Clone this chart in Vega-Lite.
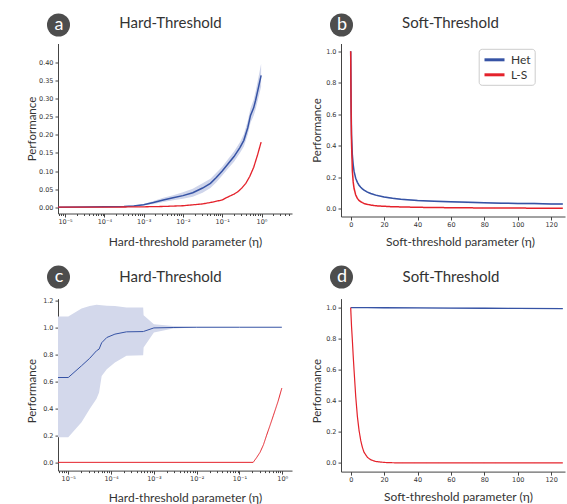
{
  "$schema": "https://vega.github.io/schema/vega-lite/v6.json",
  "background": "white",
  "padding": {"left": 26, "top": 12.5, "right": 0, "bottom": 0},
  "config": {
    "view": {"stroke": null},
    "axis": {"labelFont": "DejaVu Sans", "labelFontSize": 6.5, "labelColor": "#333", "tickColor": "#444", "domainColor": "#444", "titleFont": "Lato", "titleFontWeight": "normal", "titleColor": "#333", "grid": false}
  },
  "columns": 2,
  "align": "each",
  "spacing": {"row": 17.1, "column": 19},
  "resolve": {"scale": {"color": "independent", "strokeDash": "independent"}, "legend": {"color": "independent", "strokeDash": "independent"}},
  "datasets": {
    "a": [
      {"x": 6.607e-6, "s": "Het", "v": 0, "lo": 0, "hi": 0.0005},
      {"x": 3.162e-5, "s": "Het", "v": 0.0005, "lo": 0, "hi": 0.0012},
      {"x": 1e-4, "s": "Het", "v": 0.001, "lo": 0, "hi": 0.002},
      {"x": 3.162e-4, "s": "Het", "v": 0.002, "lo": 0.0008, "hi": 0.0032},
      {"x": 5.623e-4, "s": "Het", "v": 0.0035, "lo": 0.002, "hi": 0.005},
      {"x": 0.001, "s": "Het", "v": 0.007, "lo": 0.005, "hi": 0.009},
      {"x": 0.001778, "s": "Het", "v": 0.013, "lo": 0.009, "hi": 0.017},
      {"x": 0.003162, "s": "Het", "v": 0.02, "lo": 0.014, "hi": 0.026},
      {"x": 0.005623, "s": "Het", "v": 0.026, "lo": 0.019, "hi": 0.033},
      {"x": 0.01, "s": "Het", "v": 0.032, "lo": 0.023, "hi": 0.041},
      {"x": 0.01778, "s": "Het", "v": 0.04, "lo": 0.029, "hi": 0.051},
      {"x": 0.03162, "s": "Het", "v": 0.053, "lo": 0.04, "hi": 0.066},
      {"x": 0.05012, "s": "Het", "v": 0.066, "lo": 0.053, "hi": 0.079},
      {"x": 0.07079, "s": "Het", "v": 0.082, "lo": 0.069, "hi": 0.095},
      {"x": 0.1, "s": "Het", "v": 0.1, "lo": 0.088, "hi": 0.112},
      {"x": 0.1413, "s": "Het", "v": 0.12, "lo": 0.107, "hi": 0.133},
      {"x": 0.1995, "s": "Het", "v": 0.14, "lo": 0.126, "hi": 0.154},
      {"x": 0.2818, "s": "Het", "v": 0.165, "lo": 0.15, "hi": 0.18},
      {"x": 0.3548, "s": "Het", "v": 0.185, "lo": 0.168, "hi": 0.202},
      {"x": 0.4467, "s": "Het", "v": 0.22, "lo": 0.201, "hi": 0.239},
      {"x": 0.5248, "s": "Het", "v": 0.254, "lo": 0.234, "hi": 0.274},
      {"x": 0.631, "s": "Het", "v": 0.275, "lo": 0.253, "hi": 0.297},
      {"x": 0.7079, "s": "Het", "v": 0.296, "lo": 0.271, "hi": 0.321},
      {"x": 0.8318, "s": "Het", "v": 0.33, "lo": 0.302, "hi": 0.358},
      {"x": 0.9772, "s": "Het", "v": 0.365, "lo": 0.333, "hi": 0.397},
      {"x": 6.607e-6, "s": "L-S", "v": 0},
      {"x": 1e-4, "s": "L-S", "v": 0},
      {"x": 0.001, "s": "L-S", "v": 0.001},
      {"x": 0.003162, "s": "L-S", "v": 0.002},
      {"x": 0.01, "s": "L-S", "v": 0.004},
      {"x": 0.03162, "s": "L-S", "v": 0.009},
      {"x": 0.05623, "s": "L-S", "v": 0.014},
      {"x": 0.1, "s": "L-S", "v": 0.02},
      {"x": 0.1318, "s": "L-S", "v": 0.027},
      {"x": 0.1995, "s": "L-S", "v": 0.036},
      {"x": 0.2512, "s": "L-S", "v": 0.043},
      {"x": 0.3162, "s": "L-S", "v": 0.053},
      {"x": 0.3981, "s": "L-S", "v": 0.066},
      {"x": 0.5012, "s": "L-S", "v": 0.085},
      {"x": 0.631, "s": "L-S", "v": 0.11},
      {"x": 0.7943, "s": "L-S", "v": 0.145},
      {"x": 0.9772, "s": "L-S", "v": 0.18}
    ],
    "b": [
      {"x": 0, "s": "Het", "v": 1.0, "lo": 1.0, "hi": 1.0},
      {"x": 0.25, "s": "Het", "v": 0.66, "lo": 0.655, "hi": 0.665},
      {"x": 0.5, "s": "Het", "v": 0.47, "lo": 0.465, "hi": 0.475},
      {"x": 1, "s": "Het", "v": 0.34, "lo": 0.335, "hi": 0.345},
      {"x": 1.5, "s": "Het", "v": 0.28, "lo": 0.275, "hi": 0.285},
      {"x": 2, "s": "Het", "v": 0.238, "lo": 0.233, "hi": 0.243},
      {"x": 3, "s": "Het", "v": 0.193, "lo": 0.188, "hi": 0.198},
      {"x": 4, "s": "Het", "v": 0.167, "lo": 0.162, "hi": 0.172},
      {"x": 5, "s": "Het", "v": 0.149, "lo": 0.144, "hi": 0.154},
      {"x": 6, "s": "Het", "v": 0.136, "lo": 0.131, "hi": 0.141},
      {"x": 7, "s": "Het", "v": 0.126, "lo": 0.121, "hi": 0.131},
      {"x": 8, "s": "Het", "v": 0.118, "lo": 0.113, "hi": 0.123},
      {"x": 10, "s": "Het", "v": 0.105, "lo": 0.1, "hi": 0.11},
      {"x": 12, "s": "Het", "v": 0.096, "lo": 0.091, "hi": 0.101},
      {"x": 15, "s": "Het", "v": 0.086, "lo": 0.081, "hi": 0.091},
      {"x": 20, "s": "Het", "v": 0.074, "lo": 0.069, "hi": 0.079},
      {"x": 25, "s": "Het", "v": 0.066, "lo": 0.061, "hi": 0.071},
      {"x": 30, "s": "Het", "v": 0.06, "lo": 0.055, "hi": 0.065},
      {"x": 40, "s": "Het", "v": 0.052, "lo": 0.047, "hi": 0.057},
      {"x": 50, "s": "Het", "v": 0.047, "lo": 0.042, "hi": 0.052},
      {"x": 60, "s": "Het", "v": 0.043, "lo": 0.038, "hi": 0.048},
      {"x": 70, "s": "Het", "v": 0.04, "lo": 0.035, "hi": 0.045},
      {"x": 80, "s": "Het", "v": 0.037, "lo": 0.032, "hi": 0.042},
      {"x": 90, "s": "Het", "v": 0.035, "lo": 0.03, "hi": 0.04},
      {"x": 100, "s": "Het", "v": 0.033, "lo": 0.028, "hi": 0.038},
      {"x": 110, "s": "Het", "v": 0.032, "lo": 0.027, "hi": 0.037},
      {"x": 120, "s": "Het", "v": 0.03, "lo": 0.025, "hi": 0.035},
      {"x": 127, "s": "Het", "v": 0.029, "lo": 0.024, "hi": 0.034},
      {"x": 0, "s": "L-S", "v": 1.0},
      {"x": 0.25, "s": "L-S", "v": 0.62},
      {"x": 0.5, "s": "L-S", "v": 0.42},
      {"x": 1, "s": "L-S", "v": 0.24},
      {"x": 1.5, "s": "L-S", "v": 0.17},
      {"x": 2, "s": "L-S", "v": 0.13},
      {"x": 3, "s": "L-S", "v": 0.087},
      {"x": 4, "s": "L-S", "v": 0.065},
      {"x": 5, "s": "L-S", "v": 0.052},
      {"x": 6, "s": "L-S", "v": 0.044},
      {"x": 7, "s": "L-S", "v": 0.038},
      {"x": 8, "s": "L-S", "v": 0.033},
      {"x": 10, "s": "L-S", "v": 0.027},
      {"x": 12, "s": "L-S", "v": 0.023},
      {"x": 15, "s": "L-S", "v": 0.018},
      {"x": 20, "s": "L-S", "v": 0.015},
      {"x": 25, "s": "L-S", "v": 0.012},
      {"x": 30, "s": "L-S", "v": 0.011},
      {"x": 40, "s": "L-S", "v": 0.0085},
      {"x": 50, "s": "L-S", "v": 0.007},
      {"x": 60, "s": "L-S", "v": 0.006},
      {"x": 70, "s": "L-S", "v": 0.005},
      {"x": 80, "s": "L-S", "v": 0.0045},
      {"x": 90, "s": "L-S", "v": 0.004},
      {"x": 100, "s": "L-S", "v": 0.0035},
      {"x": 110, "s": "L-S", "v": 0.003},
      {"x": 120, "s": "L-S", "v": 0.0025},
      {"x": 127, "s": "L-S", "v": 0.002}
    ],
    "c": [
      {"x": 5.754e-6, "s": "Het", "v": 0.628, "lo": 0.185, "hi": 1.079},
      {"x": 1e-5, "s": "Het", "v": 0.628, "lo": 0.185, "hi": 1.079},
      {"x": 2.042e-5, "s": "Het", "v": 0.715, "lo": 0.296, "hi": 1.138},
      {"x": 3.162e-5, "s": "Het", "v": 0.77, "lo": 0.394, "hi": 1.158},
      {"x": 4.571e-5, "s": "Het", "v": 0.826, "lo": 0.47, "hi": 1.166},
      {"x": 5.248e-5, "s": "Het", "v": 0.838, "lo": 0.517, "hi": 1.165},
      {"x": 6.026e-5, "s": "Het", "v": 0.885, "lo": 0.64, "hi": 1.163},
      {"x": 7.943e-5, "s": "Het", "v": 0.924, "lo": 0.69, "hi": 1.16},
      {"x": 1.23e-4, "s": "Het", "v": 0.949, "lo": 0.739, "hi": 1.158},
      {"x": 2.291e-4, "s": "Het", "v": 0.966, "lo": 0.789, "hi": 1.146},
      {"x": 5.623e-4, "s": "Het", "v": 0.968, "lo": 0.793, "hi": 1.146},
      {"x": 5.754e-4, "s": "Het", "v": 0.969, "lo": 0.85, "hi": 1.089},
      {"x": 0.001, "s": "Het", "v": 0.995, "lo": 0.961, "hi": 1.023},
      {"x": 0.002818, "s": "Het", "v": 0.998, "lo": 0.99, "hi": 1.01},
      {"x": 0.01, "s": "Het", "v": 1.0, "lo": 0.999, "hi": 1.001},
      {"x": 0.1, "s": "Het", "v": 1.0, "lo": 1.0, "hi": 1.0},
      {"x": 0.9772, "s": "Het", "v": 1.0, "lo": 1.0, "hi": 1.0},
      {"x": 5.754e-6, "s": "L-S", "v": 0},
      {"x": 0.2089, "s": "L-S", "v": 0},
      {"x": 0.2512, "s": "L-S", "v": 0.035},
      {"x": 0.302, "s": "L-S", "v": 0.074},
      {"x": 0.3631, "s": "L-S", "v": 0.13},
      {"x": 0.4266, "s": "L-S", "v": 0.197},
      {"x": 0.5129, "s": "L-S", "v": 0.27},
      {"x": 0.6166, "s": "L-S", "v": 0.345},
      {"x": 0.7943, "s": "L-S", "v": 0.45},
      {"x": 0.9772, "s": "L-S", "v": 0.55}
    ],
    "d": [
      {"x": 0, "s": "Het", "v": 1.0, "lo": 0.997, "hi": 1.003},
      {"x": 10, "s": "Het", "v": 1.0, "lo": 0.997, "hi": 1.003},
      {"x": 20, "s": "Het", "v": 0.999, "lo": 0.996, "hi": 1.002},
      {"x": 40, "s": "Het", "v": 0.998, "lo": 0.995, "hi": 1.001},
      {"x": 60, "s": "Het", "v": 0.997, "lo": 0.994, "hi": 1.0},
      {"x": 80, "s": "Het", "v": 0.996, "lo": 0.993, "hi": 0.999},
      {"x": 100, "s": "Het", "v": 0.995, "lo": 0.992, "hi": 0.998},
      {"x": 127, "s": "Het", "v": 0.994, "lo": 0.991, "hi": 0.997},
      {"x": 0, "s": "L-S", "v": 1.0},
      {"x": 0.25, "s": "L-S", "v": 0.94},
      {"x": 0.5, "s": "L-S", "v": 0.88},
      {"x": 1, "s": "L-S", "v": 0.79},
      {"x": 1.5, "s": "L-S", "v": 0.69},
      {"x": 2, "s": "L-S", "v": 0.6},
      {"x": 3, "s": "L-S", "v": 0.43},
      {"x": 4, "s": "L-S", "v": 0.3},
      {"x": 5, "s": "L-S", "v": 0.21},
      {"x": 6, "s": "L-S", "v": 0.145},
      {"x": 7, "s": "L-S", "v": 0.1},
      {"x": 8, "s": "L-S", "v": 0.068},
      {"x": 10, "s": "L-S", "v": 0.036},
      {"x": 12, "s": "L-S", "v": 0.02},
      {"x": 15, "s": "L-S", "v": 0.009},
      {"x": 20, "s": "L-S", "v": 0.003},
      {"x": 25, "s": "L-S", "v": 0.001},
      {"x": 30, "s": "L-S", "v": 0},
      {"x": 60, "s": "L-S", "v": 0},
      {"x": 100, "s": "L-S", "v": 0},
      {"x": 127, "s": "L-S", "v": 0}
    ]
  },
  "concat": [
    {
      "width": 234, "height": 170,
      "data": {"name": "a"},
      "layer": [
        {
          "transform": [{"filter": "datum.s == 'Het'"}],
          "mark": {"type": "area", "color": "#cfd5eb", "opacity": 1},
          "encoding": {
            "x": {"field": "x", "type": "quantitative", "scale": {"type": "log", "domain": [6.607e-6, 5.97], "nice": false},
              "axis": {"orient": "top", "labels": false, "ticks": false, "domain": false, "title": "Hard-Threshold", "titleFontSize": 15, "titleX": 112, "titleY": -15.7, "titleBaseline": "alphabetic", "titleAlign": "center"}},
            "y": {"field": "lo", "type": "quantitative", "scale": {"domain": [-0.0175, 0.453], "nice": false, "zero": false},
              "axis": {"values": [0, 0.05, 0.1, 0.15, 0.2, 0.25, 0.3, 0.35, 0.4], "format": ".2f", "tickSize": 3, "labelPadding": 2, "title": "Performance", "titleFontSize": 11.5, "titleX": -22.3, "titleY": 85, "titleBaseline": "alphabetic", "titleAlign": "center"}},
            "y2": {"field": "hi"}
          }
        },
        {
          "transform": [{"filter": "datum.s == 'Het'"}],
          "mark": {"type": "line", "strokeWidth": 1.5},
          "encoding": {
            "x": {"field": "x", "type": "quantitative", "scale": {"type": "log", "domain": [6.607e-6, 5.97], "nice": false},
              "axis": {"orient": "bottom", "values": [0.000007, 0.000008, 0.000009, 0.00001, 0.00002, 0.00003, 0.00004, 0.00005, 0.00006, 0.00007, 0.00008, 0.00009, 0.0001, 0.0002, 0.0003, 0.0004, 0.0005, 0.0006, 0.0007, 0.0008, 0.0009, 0.001, 0.002, 0.003, 0.004, 0.005, 0.006, 0.007, 0.008, 0.009, 0.01, 0.02, 0.03, 0.04, 0.05, 0.06, 0.07, 0.08, 0.09, 0.1, 0.2, 0.3, 0.4, 0.5, 0.6, 0.7, 0.8, 0.9, 1, 2, 3, 4, 5],
                "labelExpr": "datum.value == 0.00001 ? '10⁻⁵' : datum.value == 0.0001 ? '10⁻⁴' : datum.value == 0.001 ? '10⁻³' : datum.value == 0.01 ? '10⁻²' : datum.value == 0.1 ? '10⁻¹' : datum.value == 1 ? '10⁰' : ''",
                "labelOverlap": false, "labelFlush": false, "labelPadding": 1.5, "labelBaseline": "top",
                "tickSize": {"condition": {"test": "indexof([0.00001, 0.0001, 0.001, 0.01, 0.1, 1], datum.value) >= 0", "value": 3.5}, "value": 2},
                "title": "Hard-threshold parameter (η)", "titleFontSize": 12, "titleX": 127, "titleY": 32, "titleBaseline": "alphabetic", "titleAlign": "center"}},
            "y": {"field": "v", "type": "quantitative", "scale": {"domain": [-0.0175, 0.453], "nice": false, "zero": false},
              "axis": {"values": [0, 0.05, 0.1, 0.15, 0.2, 0.25, 0.3, 0.35, 0.4], "format": ".2f", "tickSize": 3, "labelPadding": 2, "title": "Performance", "titleFontSize": 11.5, "titleX": -22.3, "titleY": 85, "titleBaseline": "alphabetic", "titleAlign": "center"}},
            "color": {"field": "s", "type": "nominal", "scale": {"domain": ["Het", "L-S"], "range": ["#3653a5", "#e4222b"]}, "legend": null}
          }
        },
        {
          "transform": [{"filter": "datum.s == 'L-S'"}],
          "mark": {"type": "line", "strokeWidth": 1.3},
          "encoding": {
            "x": {"field": "x", "type": "quantitative", "scale": {"type": "log", "domain": [6.607e-6, 5.97], "nice": false}, "axis": null},
            "y": {"field": "v", "type": "quantitative", "scale": {"domain": [-0.0175, 0.453], "nice": false, "zero": false},
              "axis": {"values": [0, 0.05, 0.1, 0.15, 0.2, 0.25, 0.3, 0.35, 0.4], "format": ".2f", "tickSize": 3, "labelPadding": 2, "title": "Performance", "titleFontSize": 11.5, "titleX": -22.3, "titleY": 85, "titleBaseline": "alphabetic", "titleAlign": "center"}},
            "color": {"field": "s", "type": "nominal", "scale": {"domain": ["Het", "L-S"], "range": ["#3653a5", "#e4222b"]}, "legend": null},
            "strokeDash": {"field": "s", "type": "nominal", "scale": {"domain": ["L-S"], "range": [[1, 0]]},
              "legend": {"orient": "none", "legendX": -11.5, "legendY": -30.5, "title": null, "padding": 0, "labelExpr": "'a'", "symbolType": "circle", "symbolSize": 530, "symbolStrokeWidth": 0, "symbolFillColor": "#4d4d4d", "symbolOpacity": 1, "labelColor": "white", "labelFont": "Lato", "labelFontSize": 18, "labelAlign": "center", "labelBaseline": "middle", "labelOffset": -11.5,
                "encode": {"symbols": {"update": {"fill": {"value": "#4d4d4d"}, "stroke": {"value": "#4d4d4d"}, "strokeWidth": {"value": 0}, "opacity": {"value": 1}, "fillOpacity": {"value": 1}}}}}}
          }
        }
      ],
      "resolve": {"axis": {"x": "independent"}}
    },
    {
      "width": 224, "height": 173,
      "data": {"name": "b"},
      "layer": [
        {
          "transform": [{"filter": "datum.s == 'Het'"}],
          "mark": {"type": "area", "color": "#cfd5eb", "opacity": 1},
          "encoding": {
            "x": {"field": "x", "type": "quantitative", "scale": {"domain": [-5.8, 128.3], "nice": false, "zero": false},
              "axis": {"orient": "top", "labels": false, "ticks": false, "domain": false, "title": "Soft-Threshold", "titleFontSize": 15, "titleX": 109, "titleY": -15.7, "titleBaseline": "alphabetic", "titleAlign": "center"}},
            "y": {"field": "lo", "type": "quantitative", "scale": {"domain": [-0.05, 1.05], "nice": false, "zero": false},
              "axis": {"values": [0, 0.2, 0.4, 0.6, 0.8, 1.0], "format": ".1f", "tickSize": 3, "labelPadding": 2, "title": "Performance", "titleFontSize": 11.5, "titleX": -20.3, "titleY": 86.5, "titleBaseline": "alphabetic", "titleAlign": "center"}},
            "y2": {"field": "hi"}
          }
        },
        {
          "transform": [{"filter": "datum.s == 'Het'"}],
          "mark": {"type": "line", "strokeWidth": 1.5},
          "encoding": {
            "x": {"field": "x", "type": "quantitative", "scale": {"domain": [-5.8, 128.3], "nice": false, "zero": false},
              "axis": {"orient": "bottom", "values": [0, 20, 40, 60, 80, 100, 120], "labelOverlap": false, "labelFlush": false, "labelPadding": 1.5, "labelBaseline": "top", "tickSize": 3.5,
                "title": "Soft-threshold parameter (η)", "titleFontSize": 12, "titleX": 119, "titleY": 29, "titleBaseline": "alphabetic", "titleAlign": "center"}},
            "y": {"field": "v", "type": "quantitative", "scale": {"domain": [-0.05, 1.05], "nice": false, "zero": false},
              "axis": {"values": [0, 0.2, 0.4, 0.6, 0.8, 1.0], "format": ".1f", "tickSize": 3, "labelPadding": 2, "title": "Performance", "titleFontSize": 11.5, "titleX": -20.3, "titleY": 86.5, "titleBaseline": "alphabetic", "titleAlign": "center"}},
            "color": {"field": "s", "type": "nominal", "scale": {"domain": ["Het", "L-S"], "range": ["#3653a5", "#e4222b"]},
              "legend": {"orient": "none", "legendX": 137.7, "legendY": 5.3, "title": null, "symbolType": "M-0.867,0H2.467", "symbolSize": 144, "symbolStrokeWidth": 3, "labelFont": "Lato", "labelFontSize": 12, "labelColor": "#333", "labelOffset": 13.8, "strokeColor": "#cccccc", "fillColor": "white", "padding": 3.5, "cornerRadius": 3, "rowPadding": 1}}
          }
        },
        {
          "transform": [{"filter": "datum.s == 'L-S'"}],
          "mark": {"type": "line", "strokeWidth": 1.5},
          "encoding": {
            "x": {"field": "x", "type": "quantitative", "scale": {"domain": [-5.8, 128.3], "nice": false, "zero": false}, "axis": null},
            "y": {"field": "v", "type": "quantitative", "scale": {"domain": [-0.05, 1.05], "nice": false, "zero": false},
              "axis": {"values": [0, 0.2, 0.4, 0.6, 0.8, 1.0], "format": ".1f", "tickSize": 3, "labelPadding": 2, "title": "Performance", "titleFontSize": 11.5, "titleX": -20.3, "titleY": 86.5, "titleBaseline": "alphabetic", "titleAlign": "center"}},
            "color": {"field": "s", "type": "nominal", "scale": {"domain": ["Het", "L-S"], "range": ["#3653a5", "#e4222b"]},
              "legend": {"orient": "none", "legendX": 137.7, "legendY": 5.3, "title": null, "symbolType": "M-0.867,0H2.467", "symbolSize": 144, "symbolStrokeWidth": 3, "labelFont": "Lato", "labelFontSize": 12, "labelColor": "#333", "labelOffset": 13.8, "strokeColor": "#cccccc", "fillColor": "white", "padding": 3.5, "cornerRadius": 3, "rowPadding": 1}},
            "strokeDash": {"field": "s", "type": "nominal", "scale": {"domain": ["L-S"], "range": [[1, 0]]},
              "legend": {"orient": "none", "legendX": -11.5, "legendY": -30.5, "title": null, "padding": 0, "labelExpr": "'b'", "symbolType": "circle", "symbolSize": 530, "symbolStrokeWidth": 0, "symbolFillColor": "#4d4d4d", "symbolOpacity": 1, "labelColor": "white", "labelFont": "Lato", "labelFontSize": 18, "labelAlign": "center", "labelBaseline": "middle", "labelOffset": -11.5,
                "encode": {"symbols": {"update": {"fill": {"value": "#4d4d4d"}, "stroke": {"value": "#4d4d4d"}, "strokeWidth": {"value": 0}, "opacity": {"value": 1}, "fillOpacity": {"value": 1}}}}}}
          }
        }
      ],
      "resolve": {"axis": {"x": "independent"}}
    },
    {
      "width": 234, "height": 172,
      "data": {"name": "c"},
      "layer": [
        {
          "transform": [{"filter": "datum.s == 'Het'"}],
          "mark": {"type": "area", "color": "#d3d8eb", "opacity": 1},
          "encoding": {
            "x": {"field": "x", "type": "quantitative", "scale": {"type": "log", "domain": [5.754e-6, 1.687], "nice": false},
              "axis": {"orient": "top", "labels": false, "ticks": false, "domain": false, "title": "Hard-Threshold", "titleFontSize": 15, "titleX": 112, "titleY": -17, "titleBaseline": "alphabetic", "titleAlign": "center"}},
            "y": {"field": "lo", "type": "quantitative", "scale": {"domain": [-0.061, 1.212], "nice": false, "zero": false},
              "axis": {"values": [0, 0.2, 0.4, 0.6, 0.8, 1.0, 1.2], "format": ".1f", "tickSize": 3, "labelPadding": 2, "title": "Performance", "titleFontSize": 11.5, "titleX": -22.3, "titleY": 92, "titleBaseline": "alphabetic", "titleAlign": "center"}},
            "y2": {"field": "hi"}
          }
        },
        {
          "transform": [{"filter": "datum.s == 'Het'"}],
          "mark": {"type": "line", "strokeWidth": 1},
          "encoding": {
            "x": {"field": "x", "type": "quantitative", "scale": {"type": "log", "domain": [5.754e-6, 1.687], "nice": false},
              "axis": {"orient": "bottom", "values": [0.000006, 0.000007, 0.000008, 0.000009, 0.00001, 0.00002, 0.00003, 0.00004, 0.00005, 0.00006, 0.00007, 0.00008, 0.00009, 0.0001, 0.0002, 0.0003, 0.0004, 0.0005, 0.0006, 0.0007, 0.0008, 0.0009, 0.001, 0.002, 0.003, 0.004, 0.005, 0.006, 0.007, 0.008, 0.009, 0.01, 0.02, 0.03, 0.04, 0.05, 0.06, 0.07, 0.08, 0.09, 0.1, 0.2, 0.3, 0.4, 0.5, 0.6, 0.7, 0.8, 0.9, 1],
                "labelExpr": "datum.value == 0.00001 ? '10⁻⁵' : datum.value == 0.0001 ? '10⁻⁴' : datum.value == 0.001 ? '10⁻³' : datum.value == 0.01 ? '10⁻²' : datum.value == 0.1 ? '10⁻¹' : datum.value == 1 ? '10⁰' : ''",
                "labelOverlap": false, "labelFlush": false, "labelPadding": 1.5, "labelBaseline": "top",
                "tickSize": {"condition": {"test": "indexof([0.00001, 0.0001, 0.001, 0.01, 0.1, 1], datum.value) >= 0", "value": 3.5}, "value": 2},
                "title": "Hard-threshold parameter (η)", "titleFontSize": 12, "titleX": 127, "titleY": 30.7, "titleBaseline": "alphabetic", "titleAlign": "center"}},
            "y": {"field": "v", "type": "quantitative", "scale": {"domain": [-0.061, 1.212], "nice": false, "zero": false},
              "axis": {"values": [0, 0.2, 0.4, 0.6, 0.8, 1.0, 1.2], "format": ".1f", "tickSize": 3, "labelPadding": 2, "title": "Performance", "titleFontSize": 11.5, "titleX": -22.3, "titleY": 92, "titleBaseline": "alphabetic", "titleAlign": "center"}},
            "color": {"field": "s", "type": "nominal", "scale": {"domain": ["Het", "L-S"], "range": ["#3653a5", "#e4222b"]}, "legend": null}
          }
        },
        {
          "transform": [{"filter": "datum.s == 'L-S'"}],
          "mark": {"type": "line", "strokeWidth": 1},
          "encoding": {
            "x": {"field": "x", "type": "quantitative", "scale": {"type": "log", "domain": [5.754e-6, 1.687], "nice": false}, "axis": null},
            "y": {"field": "v", "type": "quantitative", "scale": {"domain": [-0.061, 1.212], "nice": false, "zero": false},
              "axis": {"values": [0, 0.2, 0.4, 0.6, 0.8, 1.0, 1.2], "format": ".1f", "tickSize": 3, "labelPadding": 2, "title": "Performance", "titleFontSize": 11.5, "titleX": -22.3, "titleY": 92, "titleBaseline": "alphabetic", "titleAlign": "center"}},
            "color": {"field": "s", "type": "nominal", "scale": {"domain": ["Het", "L-S"], "range": ["#3653a5", "#e4222b"]}, "legend": null},
            "strokeDash": {"field": "s", "type": "nominal", "scale": {"domain": ["L-S"], "range": [[1, 0]]},
              "legend": {"orient": "none", "legendX": -11.5, "legendY": -33.5, "title": null, "padding": 0, "labelExpr": "'c'", "symbolType": "circle", "symbolSize": 530, "symbolStrokeWidth": 0, "symbolFillColor": "#4d4d4d", "symbolOpacity": 1, "labelColor": "white", "labelFont": "Lato", "labelFontSize": 18, "labelAlign": "center", "labelBaseline": "middle", "labelOffset": -11.5,
                "encode": {"symbols": {"update": {"fill": {"value": "#4d4d4d"}, "stroke": {"value": "#4d4d4d"}, "strokeWidth": {"value": 0}, "opacity": {"value": 1}, "fillOpacity": {"value": 1}}}}}}
          }
        }
      ],
      "resolve": {"axis": {"x": "independent"}}
    },
    {
      "width": 224, "height": 173,
      "data": {"name": "d"},
      "layer": [
        {
          "transform": [{"filter": "datum.s == 'Het'"}],
          "mark": {"type": "area", "color": "#cfd5eb", "opacity": 1},
          "encoding": {
            "x": {"field": "x", "type": "quantitative", "scale": {"domain": [-5.8, 128.3], "nice": false, "zero": false},
              "axis": {"orient": "top", "labels": false, "ticks": false, "domain": false, "title": "Soft-Threshold", "titleFontSize": 15, "titleX": 109.5, "titleY": -17, "titleBaseline": "alphabetic", "titleAlign": "center"}},
            "y": {"field": "lo", "type": "quantitative", "scale": {"domain": [-0.056, 1.058], "nice": false, "zero": false},
              "axis": {"values": [0, 0.2, 0.4, 0.6, 0.8, 1.0], "format": ".1f", "tickSize": 3, "labelPadding": 2, "title": "Performance", "titleFontSize": 11.5, "titleX": -20.3, "titleY": 92, "titleBaseline": "alphabetic", "titleAlign": "center"}},
            "y2": {"field": "hi"}
          }
        },
        {
          "transform": [{"filter": "datum.s == 'Het'"}],
          "mark": {"type": "line", "strokeWidth": 1.3},
          "encoding": {
            "x": {"field": "x", "type": "quantitative", "scale": {"domain": [-5.8, 128.3], "nice": false, "zero": false},
              "axis": {"orient": "bottom", "values": [0, 20, 40, 60, 80, 100, 120], "labelOverlap": false, "labelFlush": false, "labelPadding": 1.5, "labelBaseline": "top", "tickSize": 3.5,
                "title": "Soft-threshold parameter (η)", "titleFontSize": 12, "titleX": 117, "titleY": 29, "titleBaseline": "alphabetic", "titleAlign": "center"}},
            "y": {"field": "v", "type": "quantitative", "scale": {"domain": [-0.056, 1.058], "nice": false, "zero": false},
              "axis": {"values": [0, 0.2, 0.4, 0.6, 0.8, 1.0], "format": ".1f", "tickSize": 3, "labelPadding": 2, "title": "Performance", "titleFontSize": 11.5, "titleX": -20.3, "titleY": 92, "titleBaseline": "alphabetic", "titleAlign": "center"}},
            "color": {"field": "s", "type": "nominal", "scale": {"domain": ["Het", "L-S"], "range": ["#3653a5", "#e4222b"]}, "legend": null}
          }
        },
        {
          "transform": [{"filter": "datum.s == 'L-S'"}],
          "mark": {"type": "line", "strokeWidth": 1.2},
          "encoding": {
            "x": {"field": "x", "type": "quantitative", "scale": {"domain": [-5.8, 128.3], "nice": false, "zero": false}, "axis": null},
            "y": {"field": "v", "type": "quantitative", "scale": {"domain": [-0.056, 1.058], "nice": false, "zero": false},
              "axis": {"values": [0, 0.2, 0.4, 0.6, 0.8, 1.0], "format": ".1f", "tickSize": 3, "labelPadding": 2, "title": "Performance", "titleFontSize": 11.5, "titleX": -20.3, "titleY": 92, "titleBaseline": "alphabetic", "titleAlign": "center"}},
            "color": {"field": "s", "type": "nominal", "scale": {"domain": ["Het", "L-S"], "range": ["#3653a5", "#e4222b"]}, "legend": null},
            "strokeDash": {"field": "s", "type": "nominal", "scale": {"domain": ["L-S"], "range": [[1, 0]]},
              "legend": {"orient": "none", "legendX": -11.5, "legendY": -33.5, "title": null, "padding": 0, "labelExpr": "'d'", "symbolType": "circle", "symbolSize": 530, "symbolStrokeWidth": 0, "symbolFillColor": "#4d4d4d", "symbolOpacity": 1, "labelColor": "white", "labelFont": "Lato", "labelFontSize": 18, "labelAlign": "center", "labelBaseline": "middle", "labelOffset": -11.5,
                "encode": {"symbols": {"update": {"fill": {"value": "#4d4d4d"}, "stroke": {"value": "#4d4d4d"}, "strokeWidth": {"value": 0}, "opacity": {"value": 1}, "fillOpacity": {"value": 1}}}}}}
          }
        }
      ],
      "resolve": {"axis": {"x": "independent"}}
    }
  ]
}
